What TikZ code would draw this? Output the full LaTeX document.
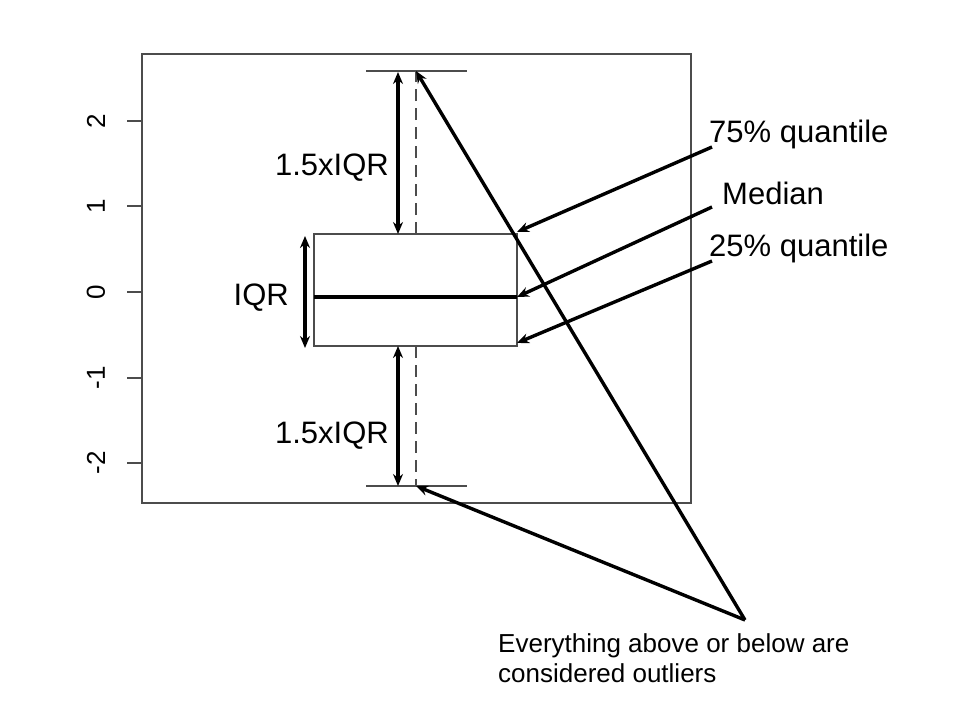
\documentclass[tikz,border=0pt]{standalone}
\usepackage{fontspec}
\setmainfont{Liberation Sans}
\usetikzlibrary{arrows.meta,positioning}

\begin{document}
\begin{tikzpicture}[x=1pt,y=-1pt,
    plotline/.style={black!70,line width=1.6pt},
    arr/.style={line width=3.4pt,-{Stealth[length=12pt,width=10pt]}},
    darr/.style={line width=3.4pt,{Stealth[length=12pt,width=10pt]}-{Stealth[length=12pt,width=10pt]}},
    lbl/.style={inner sep=0pt,font=\fontsize{31}{37}\selectfont},
    ticklbl/.style={inner sep=0pt,rotate=90,font=\fontsize{26}{30}\selectfont}]
	\useasboundingbox (0,0) rectangle (960,720);

	\draw[plotline,line width=2pt] (142,54) rectangle (691,503);
	\foreach \v/\y in {2/121,1/206,0/292,-1/378,-2/463}{
		\draw[plotline] (127,\y) -- (142,\y);
		\node[ticklbl] at (96,\y) {\v};
	}

	\coordinate (wtop) at (416,71);
	\coordinate (wbot) at (416,486);
	\coordinate (btop) at (416,234);
	\coordinate (bbot) at (416,346);
	\coordinate (q3) at (517,234);
	\coordinate (q1) at (517,346);
	\coordinate (ml) at (314,297);
	\coordinate (mr) at (517,297);

	\draw[plotline] (314,234) rectangle (q1);
	\draw[plotline] (366,71) -- (467,71);
	\draw[plotline] (366,486) -- (467,486);
	\draw[plotline,dash pattern=on 12pt off 7pt] (btop) -- (wtop);
	\draw[plotline,dash pattern=on 12pt off 7pt] (bbot) -- (wbot);
	\draw[line width=4pt] (ml) -- (mr);

	\coordinate (ut) at (398,72);
	\coordinate (ub) at (398,234);
	\coordinate (lt) at (398,346);
	\coordinate (lb) at (398,486);
	\coordinate (it) at (305,236);
	\coordinate (ib) at (305,348);
	\draw[darr] (ut) -- (ub);
	\draw[darr] (lt) -- (lb);
	\draw[darr] (it) -- (ib);

	\node[lbl,anchor=base east] (lup) at (389,175) {1.5xIQR};
	\node[lbl,anchor=base east] (llow) at (389,443) {1.5xIQR};
	\node[lbl,anchor=base east] (liqr) at (289,305) {IQR};

	\node[lbl,anchor=base west] (lq3) at (709,142) {75\% quantile};
	\node[lbl,anchor=base west] (lmed) at (722,204) {Median};
	\node[lbl,anchor=base west] (lq1) at (709,256) {25\% quantile};
	\coordinate (s3) at (712,147);
	\coordinate (sm) at (712,207);
	\coordinate (s1) at (712,261);
	\draw[arr] (s3) -- ([yshift=2pt]q3);
	\draw[arr] (sm) -- (mr);
	\draw[arr] (s1) -- ([yshift=3pt]q1);

	\node[inner sep=0pt,anchor=north west,align=left,font=\fontsize{26}{30}\selectfont] (lout) at (498,633) {Everything above or below are\\considered outliers};
	\coordinate (so) at (745,620);
	\draw[arr] (so) -- (wtop);
	\draw[arr] (so) -- (wbot);
\end{tikzpicture}
\end{document}
